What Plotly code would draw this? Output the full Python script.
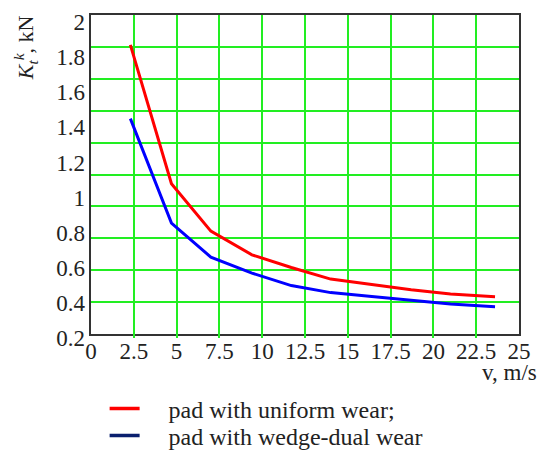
import plotly.graph_objects as go

# Sliding speed, m/s
speed = [2.3, 4.7, 7.0, 9.4, 11.7, 14.0, 16.4, 18.7, 21.0, 23.6]
# Friction force for the two pad wear patterns, kN
force_uniform = [1.87, 1.08, 0.81, 0.675, 0.603, 0.537, 0.506, 0.476, 0.452, 0.437]
force_wedge = [1.45, 0.856, 0.662, 0.571, 0.500, 0.460, 0.438, 0.418, 0.395, 0.380]

x_ticks = [0, 2.5, 5, 7.5, 10, 12.5, 15, 17.5, 20, 22.5, 25]
x_tick_text = ["0", "2.5", "5", "7.5", "10", "12.5", "15", "17.5", "20", "22.5", "25"]
y_ticks = [0.2, 0.4, 0.6, 0.8, 1.0, 1.2, 1.4, 1.6, 1.8, 2.0]
y_tick_text = ["0.2", "0.4", "0.6", "0.8", "1", "1.2", "1.4", "1.6", "1.8", "2"]

legend_names = ["pad with uniform wear;", "pad with wedge-dual wear"]

FONT = "Times New Roman, Liberation Serif, serif"
TXT = "#222222"
GRID = "#22ee22"
FRAME = "#333333"
GAP = "\u00a0" * 4  # extra room between a legend key and its label

fig = go.Figure()

# legend keys (on the gridded subplot, so that it is created and drawn first)
fig.add_trace(go.Scatter(x=[None], y=[None], mode="lines", xaxis="x", yaxis="y",
                         line=dict(color="#ff0000", width=3.5),
                         name=GAP + legend_names[0], legend="legend"))
fig.add_trace(go.Scatter(x=[None], y=[None], mode="lines", xaxis="x", yaxis="y",
                         line=dict(color="#0a1f6e", width=3.5),
                         name=GAP + legend_names[1], legend="legend2"))

fig.add_trace(go.Scatter(x=speed, y=force_uniform, mode="lines", xaxis="x", yaxis="y2",
                         line=dict(color="#ff0000", width=3), showlegend=False))
fig.add_trace(go.Scatter(x=speed, y=force_wedge, mode="lines", xaxis="x", yaxis="y2",
                         line=dict(color="#0000ff", width=3), showlegend=False))

legend_style = dict(xanchor="left", yanchor="middle", bgcolor="rgba(0,0,0,0)",
                    borderwidth=0, itemwidth=30,
                    font=dict(family=FONT, size=24, color=TXT))

fig.update_layout(
    width=541, height=451,
    margin=dict(l=91, r=22, t=15, b=111, autoexpand=False),
    paper_bgcolor="white", plot_bgcolor="rgba(0,0,0,0)",
    font=dict(family=FONT, size=23, color=TXT),
    xaxis=dict(range=[0, 25], tickvals=x_ticks, ticktext=x_tick_text,
               showgrid=True, gridcolor=GRID, gridwidth=1.5,
               showline=True, linecolor=FRAME, linewidth=1.5, mirror=True,
               zeroline=False, ticks="", anchor="y", ticklabelstandoff=-4,
               tickfont=dict(family=FONT, size=23, color=TXT)),
    yaxis=dict(range=[0.2, 2.0], tick0=0.2, dtick=0.18, domain=[6 / 325, 1],
               showticklabels=False, ticks="",
               showgrid=True, gridcolor=GRID, gridwidth=1.5,
               showline=True, linecolor=FRAME, linewidth=1.5, mirror=True,
               zeroline=False, anchor="x"),
    yaxis2=dict(range=[0.2, 2.0], domain=[1.7 / 325, 318 / 325],
                tickvals=y_ticks, ticktext=y_tick_text,
                anchor="free", position=0, side="left",
                showgrid=False, showline=False, zeroline=False, ticks="",
                ticklabelstandoff=6,
                tickfont=dict(family=FONT, size=23, color=TXT)),
    legend=dict(x=0.0318, y=-0.212, **legend_style),
    legend2=dict(x=0.0318, y=-0.295, **legend_style),
    annotations=[
        dict(text="v, m/s", xref="paper", yref="paper", x=1.047, y=-0.1015,
             xanchor="right", yanchor="middle", showarrow=False,
             font=dict(family=FONT, size=23, color=TXT)),
        dict(text="<i>K</i><sub><i>t</i></sub><sup><i>k</i></sup>, kN",
             xref="paper", yref="paper", x=-0.154, y=0.898, textangle=-90,
             xanchor="center", yanchor="middle", showarrow=False,
             font=dict(family=FONT, size=22, color=TXT)),
    ],
)

fig.write_html("out.html")
